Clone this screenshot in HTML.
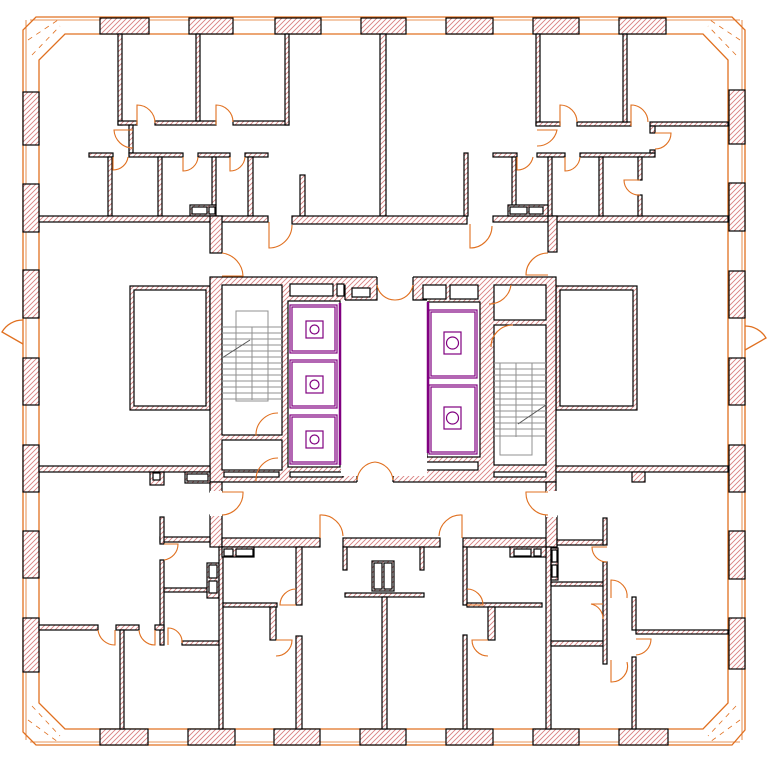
<!DOCTYPE html>
<html><head><meta charset="utf-8"><style>html,body{margin:0;padding:0;background:#fff}svg{display:block}</style></head>
<body>
<svg width="768" height="760" viewBox="0 0 768 760" xmlns="http://www.w3.org/2000/svg">
<defs>
<pattern id="h" patternUnits="userSpaceOnUse" width="5" height="5">
<rect width="5" height="5" fill="#fff"/>
<path d="M-1,6 L6,-1 M-1,1 L1,-1 M4,6 L6,4" stroke="#d98080" stroke-width="0.9"/>
</pattern>
</defs>
<rect width="768" height="760" fill="#fff"/>
<!-- exterior -->
<g fill="none" stroke="#e07020" stroke-width="1.3">
<polygon points="36,17 732,17 745,30 745,730 732,745 36,745 23,732 23,30"/>
<polygon points="65,34 703,34 728,60 728,703 703,729 65,729 39,703 39,60"/>
<polyline points="26,20 26,740" stroke-width="0.8"/>
<polyline points="742,20 742,740" stroke-width="0.8"/>
<polyline points="30,20 740,20" stroke-width="0.8"/>
<polyline points="30,742 740,742" stroke-width="0.8"/>
<path d="M23,320 A24,24 0 0 0 2,332 L23,344"/>
<path d="M745,326 A24,24 0 0 1 766,338 L745,350"/>
</g>
<g fill="url(#h)" stroke="#000" stroke-width="1.2">
<!-- top piers -->
<rect x="100" y="18" width="49" height="16"/><rect x="189" y="18" width="44" height="16"/><rect x="275" y="18" width="46" height="16"/><rect x="361" y="18" width="45" height="16"/><rect x="446" y="18" width="47" height="16"/><rect x="533" y="18" width="46" height="16"/><rect x="619" y="18" width="47" height="16"/>
<rect x="100" y="729" width="48" height="16"/><rect x="188" y="729" width="47" height="16"/><rect x="274" y="729" width="46" height="16"/><rect x="360" y="729" width="46" height="16"/><rect x="446" y="729" width="47" height="16"/><rect x="533" y="729" width="46" height="16"/><rect x="619" y="729" width="49" height="16"/>
<rect x="23" y="92" width="16" height="53"/><rect x="23" y="184" width="16" height="48"/><rect x="23" y="270" width="16" height="48"/><rect x="23" y="358" width="16" height="47"/><rect x="23" y="445" width="16" height="47"/><rect x="23" y="531" width="16" height="47"/><rect x="23" y="618" width="16" height="54"/>
<rect x="729" y="90" width="16" height="54"/><rect x="729" y="183" width="16" height="48"/><rect x="729" y="271" width="16" height="47"/><rect x="729" y="358" width="16" height="47"/><rect x="729" y="445" width="16" height="47"/><rect x="729" y="531" width="16" height="48"/><rect x="729" y="618" width="16" height="51"/>

<!-- top-left -->
<rect x="118" y="34" width="4" height="91"/><rect x="118" y="121" width="19" height="4"/><rect x="155" y="121" width="61" height="4"/><rect x="196" y="34" width="4" height="87"/><rect x="233" y="121" width="56" height="4"/><rect x="285" y="34" width="4" height="91"/><rect x="380" y="34" width="6" height="182"/><rect x="300" y="175" width="5" height="41"/>
<rect x="129" y="125" width="4" height="28"/>
<rect x="89" y="153" width="24" height="4"/><rect x="129" y="153" width="54" height="4"/><rect x="198" y="153" width="32" height="4"/><rect x="245" y="153" width="23" height="4"/>
<rect x="108" y="157" width="4" height="59"/><rect x="158" y="157" width="4" height="59"/><rect x="212" y="157" width="4" height="48"/><rect x="248" y="157" width="5" height="59"/>
<rect x="190" y="205" width="26" height="11"/>
<!-- main corridor top -->
<rect x="39" y="216" width="229" height="6"/><rect x="210" y="216" width="12" height="37"/><rect x="292" y="216" width="175" height="8"/><rect x="493" y="216" width="235" height="6"/><rect x="548" y="216" width="9" height="36"/>
<!-- top-right -->
<rect x="536" y="34" width="4" height="91"/><rect x="536" y="122" width="24" height="4"/><rect x="577" y="122" width="54" height="4"/><rect x="623" y="34" width="4" height="88"/><rect x="650" y="122" width="78" height="4"/><rect x="650" y="126" width="5" height="7"/>
<rect x="493" y="153" width="24" height="4"/><rect x="537" y="153" width="28" height="4"/><rect x="580" y="153" width="75" height="4"/><rect x="650" y="150" width="5" height="3"/>
<rect x="512" y="157" width="4" height="55"/><rect x="548" y="157" width="4" height="59"/><rect x="599" y="157" width="4" height="59"/><rect x="638" y="157" width="4" height="23"/><rect x="638" y="195" width="4" height="21"/><rect x="464" y="153" width="4" height="63"/>
<rect x="508" y="205" width="40" height="11"/>
<!-- side rooms -->
<rect x="130" y="286" width="80" height="124"/><rect x="556" y="286" width="81" height="124"/>
<!-- core -->
<rect x="210" y="277" width="346" height="205"/>
<rect x="210" y="482" width="12" height="10"/><rect x="546" y="482" width="10" height="10"/>
<!-- mid walls -->
<rect x="39" y="466" width="171" height="6"/><rect x="556" y="466" width="172" height="6"/>
<rect x="150" y="472" width="14" height="13"/><rect x="185" y="472" width="25" height="11"/><rect x="632" y="472" width="13" height="10"/>
<!-- bottom -->
<rect x="210" y="515" width="12" height="32"/><rect x="160" y="537" width="50" height="5"/><rect x="222" y="538" width="98" height="9"/><rect x="343" y="538" width="97" height="9"/><rect x="463" y="538" width="94" height="9"/><rect x="546" y="516" width="11" height="31"/>
<rect x="160" y="517" width="4" height="27"/><rect x="160" y="560" width="4" height="85"/><rect x="164" y="588" width="43" height="4"/><rect x="207" y="563" width="12" height="35"/><rect x="182" y="641" width="37" height="4"/>
<rect x="39" y="625" width="59" height="5"/><rect x="116" y="625" width="23" height="5"/><rect x="155" y="625" width="9" height="5"/>
<rect x="120" y="630" width="4" height="99"/><rect x="219" y="547" width="4" height="182"/><rect x="223" y="603" width="54" height="4"/><rect x="270" y="607" width="6" height="33"/><rect x="296" y="547" width="6" height="58"/><rect x="296" y="636" width="6" height="93"/>
<rect x="222" y="547" width="32" height="10"/>
<rect x="343" y="547" width="4" height="23"/><rect x="420" y="547" width="4" height="23"/><rect x="345" y="593" width="79" height="4"/><rect x="382" y="597" width="5" height="132"/><rect x="372" y="561" width="22" height="30"/>
<rect x="463" y="547" width="4" height="58"/><rect x="463" y="635" width="4" height="94"/><rect x="467" y="603" width="75" height="4"/><rect x="488" y="607" width="7" height="33"/><rect x="546" y="547" width="5" height="182"/><rect x="551" y="582" width="53" height="4"/><rect x="551" y="641" width="53" height="5"/>
<rect x="557" y="540" width="47" height="5"/><rect x="603" y="518" width="4" height="27"/><rect x="603" y="562" width="4" height="102"/><rect x="632" y="597" width="4" height="33"/><rect x="632" y="657" width="4" height="72"/><rect x="636" y="630" width="92" height="4"/>
<rect x="510" y="547" width="36" height="10"/><rect x="551" y="548" width="7" height="32"/>
</g>
<!-- white boxes -->
<g fill="#fff" stroke="#000" stroke-width="1.2">
<rect x="134" y="290" width="72" height="116"/><rect x="560" y="290" width="73" height="116"/>
<rect x="192" y="207" width="15" height="7"/><rect x="209" y="207" width="6" height="7"/>
<rect x="510" y="207" width="17" height="7"/><rect x="529" y="207" width="14" height="7"/>
<rect x="222" y="285" width="60" height="150"/><rect x="222" y="440" width="60" height="30"/>
<rect x="288" y="301" width="52" height="166"/>
<rect x="427" y="302" width="53" height="155"/>
<rect x="494" y="285" width="52" height="35"/><rect x="494" y="325" width="52" height="140"/>
<rect x="290" y="284" width="43" height="12"/><rect x="337" y="284" width="7" height="12"/><rect x="352" y="288" width="18" height="9"/><rect x="423" y="285" width="23" height="14"/><rect x="450" y="285" width="28" height="14"/>
<rect x="290" y="472" width="53" height="5"/><rect x="398" y="456" width="14" height="14"/><rect x="423" y="462" width="55" height="8"/><rect x="494" y="472" width="52" height="5"/><rect x="224" y="472" width="55" height="5"/>
<rect x="153" y="473" width="7" height="7"/><rect x="187" y="474" width="21" height="7"/>
<rect x="224" y="549" width="9" height="7"/><rect x="236" y="549" width="17" height="7"/>
<rect x="209" y="565" width="8" height="13"/><rect x="209" y="581" width="8" height="12"/>
<rect x="374" y="563" width="8" height="26"/><rect x="384" y="563" width="8" height="26"/>
<rect x="514" y="549" width="17" height="7"/><rect x="534" y="549" width="7" height="7"/><rect x="552" y="550" width="5" height="12"/><rect x="552" y="565" width="5" height="12"/>
</g>
<!-- lobby -->
<g fill="#fff" stroke="none">
<rect x="341" y="300" width="86" height="176"/><rect x="377" y="276" width="36" height="26"/><rect x="357" y="474" width="36" height="10"/>
<rect x="210" y="491" width="12" height="25"/><rect x="546" y="491" width="11" height="26"/>
</g>
<g stroke="#000" stroke-width="1.2" fill="none">
<path d="M345,300 L345,285 M377,277 L377,300 L345,300 M413,277 L413,300 L427,300 M357,476 L357,482 M393,476 L393,482"/>
</g>
<!-- elevators -->
<g fill="none" stroke="#800080" stroke-width="1.2">
<rect x="290" y="305" width="47" height="48"/><rect x="292" y="307" width="43" height="44"/>
<rect x="290" y="360" width="47" height="48"/><rect x="292" y="362" width="43" height="44"/>
<rect x="290" y="415" width="47" height="49"/><rect x="292" y="417" width="43" height="45"/>
<rect x="306" y="321" width="17" height="17"/><circle cx="314.5" cy="329.5" r="4.5"/>
<rect x="306" y="376" width="17" height="17"/><circle cx="314.5" cy="384.5" r="4.5"/>
<rect x="306" y="431" width="17" height="17"/><circle cx="314.5" cy="439.5" r="4.5"/>
<rect x="429" y="310" width="48" height="68"/><rect x="431" y="312" width="44" height="64"/>
<rect x="429" y="385" width="48" height="69"/><rect x="431" y="387" width="44" height="65"/>
<rect x="444" y="332" width="17" height="22"/><circle cx="452.5" cy="343" r="6"/>
<rect x="444" y="407" width="17" height="22"/><circle cx="452.5" cy="418" r="6"/>
<path d="M340,303 L340,465 M428,302 L428,453" stroke-width="2.5"/>
</g>
<!-- stairs -->
<g stroke="#909090" stroke-width="1" fill="none">
<rect x="236" y="311" width="32" height="90"/>
<path d="M252,327 L252,400 M222,327 L282,327 M222,333 L282,333 M222,339 L282,339 M222,345 L282,345 M222,351 L282,351 M222,357 L282,357 M222,363 L282,363 M222,369 L282,369 M222,375 L282,375 M222,381 L282,381 M222,387 L282,387 M222,393 L282,393 M222,399 L282,399"/>
<path d="M222,358 L250,340" stroke="#555"/>
<rect x="500" y="363" width="32" height="92"/>
<path d="M516,363 L516,437 M494,363 L546,363 M494,369 L546,369 M494,375 L546,375 M494,381 L546,381 M494,387 L546,387 M494,393 L546,393 M494,399 L546,399 M494,405 L546,405 M494,411 L546,411 M494,417 L546,417 M494,423 L546,423 M494,429 L546,429 M494,436 L546,436"/>
<path d="M518,424 L546,405" stroke="#555"/>
</g>
<!-- doors -->
<g fill="none" stroke="#e07020" stroke-width="1.1">
<path d="M137,125 L137,105 A18,18 0 0 1 155,123"/>
<path d="M216,125 L216,105 A17,17 0 0 1 233,122"/>
<path d="M133,130 L114,130 A19,19 0 0 0 133,148"/>
<path d="M113,157 L113,170 A15,15 0 0 0 128,157"/>
<path d="M183,157 L183,171 A15,15 0 0 0 198,157"/>
<path d="M230,157 L230,171 A15,15 0 0 0 245,157"/>
<path d="M269,222 L269,248 A23,23 0 0 0 292,225"/>
<path d="M222,253 A24,24 0 0 1 243,276 L222,276"/>
<path d="M560,126 L560,105 A17,17 0 0 1 577,122"/>
<path d="M631,126 L631,105 A17,17 0 0 1 648,122"/>
<path d="M655,133 L671,133 A16,16 0 0 1 655,149"/>
<path d="M537,130 L557,130 A20,20 0 0 1 537,146"/>
<path d="M517,157 L517,170 A16,16 0 0 0 533,157"/>
<path d="M565,157 L565,171 A15,15 0 0 0 580,157"/>
<path d="M640,180 L624,180 A15,15 0 0 0 640,195"/>
<path d="M470,224 L470,248 A22,22 0 0 0 492,226"/>
<path d="M548,253 A22,22 0 0 0 526,275 L548,275"/>
<path d="M377,285 A18,18 0 0 0 395,300 A18,18 0 0 0 413,285"/>
<path d="M489,304 A22,22 0 0 0 511,285"/>
<path d="M513,325 A22,22 0 0 0 491,347"/>
<path d="M278,413 A22,22 0 0 0 256,436"/>
<path d="M278,458 A22,22 0 0 0 256,481"/>
<path d="M357,480 A20,20 0 0 1 375,462 M393,480 A20,20 0 0 0 375,462"/>
<path d="M222,492 L243,492 A22,22 0 0 1 222,515"/>
<path d="M320,538 L320,515 A22,22 0 0 1 343,536"/>
<path d="M462,538 L462,515 A22,22 0 0 0 439,536"/>
<path d="M548,492 L526,492 A22,22 0 0 0 548,515"/>
<path d="M164,544 L178,544 A16,16 0 0 1 164,560"/>
<path d="M115,630 L115,645 A17,17 0 0 1 98,630"/>
<path d="M155,630 L155,645 A16,16 0 0 1 139,630"/>
<path d="M168,645 L168,628 A14,14 0 0 1 182,643"/>
<path d="M296,605 L280,605 A16,16 0 0 1 296,589"/>
<path d="M276,640 L292,640 A16,16 0 0 1 276,656"/>
<path d="M467,605 L483,605 A16,16 0 0 0 467,589"/>
<path d="M488,640 L472,640 A16,16 0 0 0 488,656"/>
<path d="M607,547 L592,547 A15,15 0 0 0 607,562"/>
<path d="M603,604 L591,604 A15,15 0 0 1 603,619"/>
<path d="M611,598 L611,580 A16,16 0 0 1 627,598"/>
<path d="M636,639 L651,639 A16,16 0 0 1 636,655"/>
<path d="M611,660 L611,682 A16,16 0 0 0 627,662"/>
</g>
<!-- corner details -->
<g stroke="#e07020" stroke-width="0.8" fill="none" stroke-dasharray="5,5">
<path d="M28,40 L58,20 M32,55 L60,26"/>
<path d="M740,40 L710,20 M736,55 L708,26"/>
<path d="M28,720 L58,742 M32,706 L60,736"/>
<path d="M740,720 L710,742 M736,706 L708,736"/>
</g>
</svg>
</body></html>
